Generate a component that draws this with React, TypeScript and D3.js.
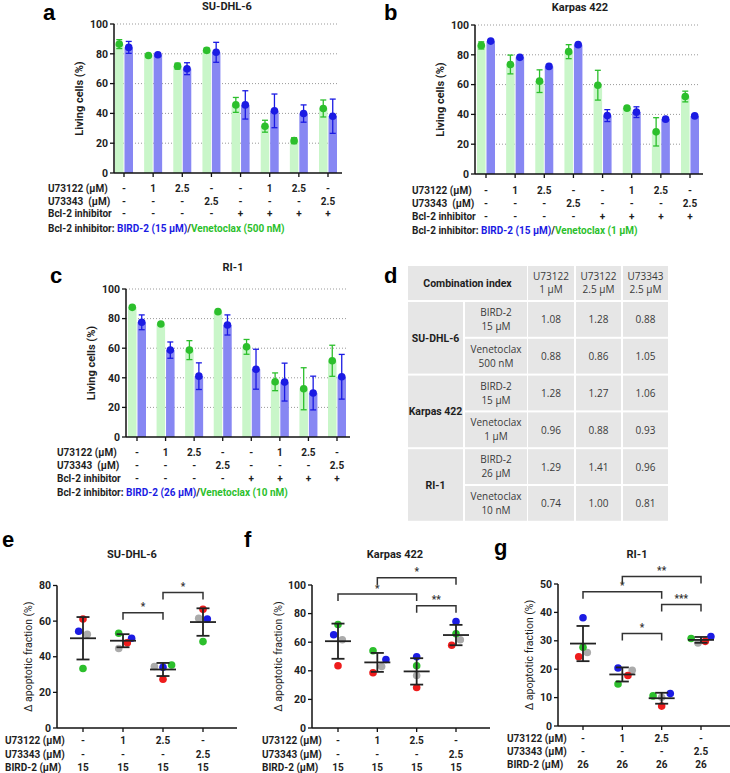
import React from 'react';
import * as d3 from 'd3';

// ---- panels a-c: row annotations under the bars ----
const u73122Row = ['-', '1', '2.5', '-', '-', '1', '2.5', '-'];
const u73343Row = ['-', '-', '-', '2.5', '-', '-', '-', '2.5'];
const bcl2Row = ['-', '-', '-', '-', '+', '+', '+', '+'];

// living cells (%), mean and SD per condition
const suVenMean = [86.5, 78.9, 71.7, 82.3, 45.7, 31.4, 21.7, 43.3];
const suVenSd = [3, 0.6, 2, 1.5, 5, 4, 2, 5.7];
const suBirdMean = [84.3, 79.4, 70, 81, 45.7, 41.7, 39.9, 38.1];
const suBirdSd = [4, 1, 4, 6.7, 9.5, 11.3, 5.8, 11.5];

const kpVenMean = [86.3, 73.5, 62.3, 82.1, 59.6, 44.2, 28.3, 52.0];
const kpVenSd = [2.4, 6.3, 7.6, 4.7, 10, 0.5, 9.5, 3.6];
const kpBirdMean = [89.2, 78.3, 72.2, 86.8, 39.2, 41.5, 36.8, 39.0];
const kpBirdSd = [0.5, 0.5, 0.5, 0.5, 4, 3.6, 0.5, 0.5];

const riVenMean = [87.6, 76.4, 58.7, 84.7, 60.9, 37.3, 32.6, 51.5];
const riVenSd = [1, 0.5, 6.4, 0.5, 5, 6, 14.2, 10.5];
const riBirdMean = [77.5, 58.7, 41.1, 75.7, 45.8, 37.1, 29.7, 40.7];
const riBirdSd = [5, 5.5, 9, 6.8, 13.5, 12.8, 11.4, 15.1];

const barTicks = [0, 20, 40, 60, 80, 100];

// ---- panel d: combination index table ----
const ciHeaderTop = ['U73122', 'U73122', 'U73343'];
const ciHeaderBottom = ['1 µM', '2.5 µM', '2.5 µM'];
const ciCellLines = ['SU-DHL-6', 'Karpas 422', 'RI-1'];
const ciInhibitor = ['BIRD-2', 'Venetoclax', 'BIRD-2', 'Venetoclax', 'BIRD-2', 'Venetoclax'];
const ciDose = ['15 µM', '500 nM', '15 µM', '1 µM', '26 µM', '10 nM'];
const ciValues = [
  [1.08, 1.28, 0.88],
  [0.88, 0.86, 1.05],
  [1.28, 1.27, 1.06],
  [0.96, 0.88, 0.93],
  [1.29, 1.41, 0.96],
  [0.74, 1.0, 0.81],
];

// ---- panels e-g: apoptotic fraction, one replicate per colour ----
const scU73122 = ['-', '1', '2.5', '-'];
const scU73343 = ['-', '-', '-', '2.5'];

const eRed = [61.2, 47.8, 27.4, 66.6];
const eBlue = [54.3, 50.4, 34.1, 61.2];
const eGray = [52.6, 44.6, 34.5, 61.6];
const eGreen = [33.4, 53.2, 35.4, 48.5];
const eRedSlot = [0, 1, 0, 0];
const eBlueSlot = [-1, 2, 0, 1];
const eGraySlot = [1, -1, -2, -1];
const eGreenSlot = [0, -1, 2, 0];

const fRed = [43.5, 38.6, 28.3, 57.9];
const fBlue = [65.2, 47.9, 49.8, 74.5];
const fGray = [61.7, 43.0, 36.7, 61.7];
const fGreen = [72.4, 54.0, 43.5, 65.9];
const fRedSlot = [0, -1, 0, -1];
const fBlueSlot = [-1, 2, 0, 0];
const fGraySlot = [1, 1, 0, 1];
const fGreenSlot = [0, -1, 0, 0];

const gRed = [24.4, 17.8, 7.0, 29.8];
const gBlue = [38.1, 20.4, 11.4, 31.5];
const gGray = [25.9, 19.6, 10.1, 29.2];
const gGreen = [27.7, 14.8, 10.6, 30.8];
const gRedSlot = [-1, 1.3, 0, 1];
const gBlueSlot = [0, -1, 2, 2.3];
const gGraySlot = [1, 2.3, 0, -0.7];
const gGreenSlot = [0, -1, -2, -2.3];

// significance brackets: [from group, to group, level, stars]
const eBrackets: [number, number, number, string][] = [
  [1, 2, 64.7, '*'],
  [2, 3, 76.1, '*'],
];
const fBrackets: [number, number, number, string][] = [
  [0, 2, 93.7, '*'],
  [1, 3, 105.1, '*'],
  [2, 3, 85.5, '**'],
];
const gBrackets: [number, number, number, string][] = [
  [0, 2, 47.3, '*'],
  [1, 3, 52.6, '**'],
  [2, 3, 42.8, '***'],
  [1, 2, 32.6, '*'],
];

const FONT = 'Roboto, "Noto Sans", sans-serif';
const CELL_FONT = '"Open Sans", "Noto Sans", sans-serif';
const GREEN = '#2cbf2c';
const GREEN_BAR = '#c9f6c9';
const BLUE = '#1b1be3';
const BLUE_BAR = '#8787f3';
const RED = '#ee1c1c';
const GRAY = '#ababab';
const INK = '#1e1e1e';

interface BarPanelProps {
  letter: string;
  letterX: number;
  letterY: number;
  title: string;
  titleX: number;
  titleY: number;
  left: number;
  right: number;
  top: number;
  bottom: number;
  firstTick: number;
  lastTick: number;
  venMean: number[];
  venSd: number[];
  birdMean: number[];
  birdSd: number[];
  rowX: number;
  rowY: number[];
  birdDose: string;
  venDose: string;
}

const BarPanel: React.FC<BarPanelProps> = (p) => {
  const idx = d3.range(p.venMean.length).map(String);
  const x = d3.scalePoint<string>().domain(idx).range([p.firstTick, p.lastTick]);
  const inner = d3.scaleBand<string>().domain(['ven', 'bird']).range([-9, 9]).paddingInner(0.1);
  const y = d3.scaleLinear().domain([0, 100]).range([p.bottom, p.top]);
  const bw = inner.bandwidth();

  const series = [
    { key: 'ven', mean: p.venMean, sd: p.venSd, bar: GREEN_BAR, dot: GREEN },
    { key: 'bird', mean: p.birdMean, sd: p.birdSd, bar: BLUE_BAR, dot: BLUE },
  ];

  return (
    <g fontFamily={FONT}>
      <text x={p.letterX} y={p.letterY} fontSize={22} fontWeight={700} fontFamily="Liberation Sans, Arial, sans-serif">
        {p.letter}
      </text>
      <text x={p.titleX} y={p.titleY} fontSize={11} fontWeight={700} textAnchor="middle" fill={INK}>
        {p.title}
      </text>
      {barTicks.filter((t) => t > 0).map((t) => (
        <line key={t} x1={p.left} x2={p.right - 4} y1={y(t)} y2={y(t)} stroke="#999" strokeWidth={1} strokeDasharray="1,2" />
      ))}
      {series.map((s) => (
        <g key={s.key}>
          {s.mean.map((m, i) => {
            const cx = x(String(i))! + inner(s.key)! + bw / 2;
            return (
              <g key={i}>
                <rect x={cx - bw / 2} y={y(m)} width={bw} height={y(0) - y(m)} fill={s.bar} />
                <line x1={cx} x2={cx} y1={y(m + s.sd[i])} y2={y(m - s.sd[i])} stroke={s.dot} strokeWidth={1.3} />
                <line x1={cx - 3} x2={cx + 3} y1={y(m + s.sd[i])} y2={y(m + s.sd[i])} stroke={s.dot} strokeWidth={1.3} />
                <line x1={cx - 3} x2={cx + 3} y1={y(m - s.sd[i])} y2={y(m - s.sd[i])} stroke={s.dot} strokeWidth={1.3} />
                <circle cx={cx} cy={y(m)} r={3.8} fill={s.dot} />
              </g>
            );
          })}
        </g>
      ))}
      <line x1={p.left} x2={p.left} y1={p.top} y2={p.bottom} stroke="#111" strokeWidth={1.5} />
      <line x1={p.left} x2={p.right} y1={p.bottom} y2={p.bottom} stroke="#111" strokeWidth={1.5} />
      {barTicks.map((t) => (
        <g key={t}>
          <line x1={p.left - 4} x2={p.left} y1={y(t)} y2={y(t)} stroke="#111" strokeWidth={1.3} />
          <text x={p.left - 6} y={y(t) + 3.8} fontSize={10.5} fontWeight={700} textAnchor="end" fill={INK}>
            {t}
          </text>
        </g>
      ))}
      {idx.map((k) => (
        <line key={k} x1={x(k)} x2={x(k)} y1={p.bottom} y2={p.bottom + 4} stroke="#111" strokeWidth={1.3} />
      ))}
      <text
        transform={`translate(${p.left - 31},${(p.top + p.bottom) / 2}) rotate(-90)`}
        fontSize={11}
        fontWeight={700}
        textAnchor="middle"
        fill={INK}
      >
        Living cells (%)
      </text>
      {[
        { label: 'U73122 (µM)', vals: u73122Row },
        { label: 'U73343  (µM)', vals: u73343Row },
        { label: 'Bcl-2 inhibitor', vals: bcl2Row },
      ].map((row, r) => (
        <g key={r} fontSize={10} fontWeight={700} fill={INK}>
          <text x={p.rowX} y={p.rowY[r]} style={{ whiteSpace: 'pre' }}>
            {row.label}
          </text>
          {row.vals.map((v, i) => (
            <text key={i} x={x(String(i))} y={p.rowY[r]} textAnchor="middle">
              {v}
            </text>
          ))}
        </g>
      ))}
      <text x={p.rowX} y={p.rowY[3]} fontSize={10} fontWeight={700} fill={INK}>
        <tspan>Bcl-2 inhibitor: </tspan>
        <tspan fill={BLUE}>{`BIRD-2 (${p.birdDose})`}</tspan>
        <tspan>/</tspan>
        <tspan fill={GREEN}>{`Venetoclax (${p.venDose})`}</tspan>
      </text>
    </g>
  );
};

interface ScatterPanelProps {
  letter: string;
  letterX: number;
  letterY: number;
  title: string;
  titleX: number;
  titleY: number;
  left: number;
  right: number;
  top: number;
  bottom: number;
  firstTick: number;
  lastTick: number;
  yMax: number;
  yStep: number;
  reps: { vals: number[]; slots: number[]; color: string }[];
  brackets: [number, number, number, string][];
  dose: string;
  rowX: number;
  rowY: number[];
}

const ScatterPanel: React.FC<ScatterPanelProps> = (p) => {
  const idx = d3.range(4).map(String);
  const x = d3.scalePoint<string>().domain(idx).range([p.firstTick, p.lastTick]);
  const y = d3.scaleLinear().domain([0, p.yMax]).range([p.bottom, p.top]);
  const ticks = d3.range(0, p.yMax + 0.001, p.yStep);
  const slotPx = 4.3;

  const stats = idx.map((_, i) => {
    const v = p.reps.map((r) => r.vals[i]);
    return { mean: d3.mean(v)!, sd: d3.deviation(v)! };
  });

  return (
    <g fontFamily={FONT}>
      <text x={p.letterX} y={p.letterY} fontSize={22} fontWeight={700} fontFamily="Liberation Sans, Arial, sans-serif">
        {p.letter}
      </text>
      <text x={p.titleX} y={p.titleY} fontSize={11} fontWeight={700} textAnchor="middle" fill={INK}>
        {p.title}
      </text>
      {p.reps.map((r, ri) => (
        <g key={ri}>
          {r.vals.map((v, i) => (
            <circle key={i} cx={x(String(i))! + r.slots[i] * slotPx} cy={y(v)} r={3.8} fill={r.color} />
          ))}
        </g>
      ))}
      {stats.map((s, i) => {
        const cx = x(String(i))!;
        return (
          <g key={i} stroke="#222" strokeWidth={1.8}>
            <line x1={cx} x2={cx} y1={y(s.mean + s.sd)} y2={y(s.mean - s.sd)} />
            <line x1={cx - 6.5} x2={cx + 6.5} y1={y(s.mean + s.sd)} y2={y(s.mean + s.sd)} />
            <line x1={cx - 6.5} x2={cx + 6.5} y1={y(s.mean - s.sd)} y2={y(s.mean - s.sd)} />
            <line x1={cx - 13} x2={cx + 13} y1={y(s.mean)} y2={y(s.mean)} />
          </g>
        );
      })}
      {p.brackets.map(([a, b, lvl, stars], i) => {
        const x1 = x(String(a))!;
        const x2 = x(String(b))!;
        const yy = y(lvl);
        return (
          <g key={i}>
            <path d={`M${x1},${yy + 7}V${yy}H${x2}V${yy + 7}`} fill="none" stroke="#333" strokeWidth={1.5} />
            <text x={(x1 + x2) / 2} y={yy - 2.5} fontSize={10} fontWeight={700} textAnchor="middle" fill="#333">
              {stars}
            </text>
          </g>
        );
      })}
      <line x1={p.left} x2={p.left} y1={p.top} y2={p.bottom} stroke="#111" strokeWidth={1.5} />
      <line x1={p.left} x2={p.right} y1={p.bottom} y2={p.bottom} stroke="#111" strokeWidth={1.5} />
      {ticks.map((t) => (
        <g key={t}>
          <line x1={p.left - 4} x2={p.left} y1={y(t)} y2={y(t)} stroke="#111" strokeWidth={1.3} />
          <text x={p.left - 6} y={y(t) + 3.6} fontSize={10.5} fontWeight={700} textAnchor="end" fill={INK}>
            {t}
          </text>
        </g>
      ))}
      {idx.map((k) => (
        <line key={k} x1={x(k)} x2={x(k)} y1={p.bottom} y2={p.bottom + 4} stroke="#111" strokeWidth={1.3} />
      ))}
      <text
        transform={`translate(${p.left - (p.yMax >= 100 ? 30 : 25)},${(p.top + p.bottom) / 2}) rotate(-90)`}
        fontSize={10.5}
        textAnchor="middle"
        fill={INK}
      >
        Δ apoptotic fraction (%)
      </text>
      {[
        { label: 'U73122 (µM)', vals: scU73122 },
        { label: 'U73343 (µM)', vals: scU73343 },
        { label: 'BIRD-2 (µM)', vals: idx.map(() => p.dose) },
      ].map((row, r) => (
        <g key={r} fontSize={10} fontWeight={700} fill={INK}>
          <text x={p.rowX} y={p.rowY[r]}>
            {row.label}
          </text>
          {row.vals.map((v, i) => (
            <text key={i} x={x(String(i))} y={p.rowY[r]} textAnchor="middle">
              {v}
            </text>
          ))}
        </g>
      ))}
    </g>
  );
};

const CiTable: React.FC = () => {
  const colX = [408, 465, 528, 576, 623];
  const colW = [55, 62, 46, 45, 45];
  const headTop = 266;
  const headH = 34;
  const rowTop = 302;
  const pitch = 36.8;
  const rowH = 34.8;
  const bg = '#e6e6e6';
  const txt = '#3a3a3a';

  return (
    <g fontFamily={CELL_FONT} fontSize={10} fill={txt}>
      <text x={384} y={283} fontSize={22} fontWeight={700} fill="#000" fontFamily="Liberation Sans, Arial, sans-serif">
        d
      </text>
      <rect x={colX[0]} y={headTop} width={colX[1] + colW[1] - colX[0]} height={headH} fill={bg} />
      <text x={(colX[0] + colX[1] + colW[1]) / 2} y={headTop + headH / 2 + 4} textAnchor="middle" fontWeight={700} fontSize={10.5} fontFamily={FONT} fill={INK}>
        Combination index
      </text>
      {ciHeaderTop.map((h, j) => {
        const cx = colX[j + 2] + colW[j + 2] / 2;
        return (
          <g key={j}>
            <rect x={colX[j + 2]} y={headTop} width={colW[j + 2]} height={headH} fill={bg} />
            <text x={cx} y={headTop + 14} textAnchor="middle">{h}</text>
            <text x={cx} y={headTop + 27} textAnchor="middle">{ciHeaderBottom[j]}</text>
          </g>
        );
      })}
      {ciCellLines.map((c, k) => {
        const y0 = rowTop + 2 * k * pitch;
        const h = pitch + rowH;
        return (
          <g key={c}>
            <rect x={colX[0]} y={y0} width={colW[0]} height={h} fill={bg} />
            <text x={colX[0] + colW[0] / 2} y={y0 + h / 2 + 4} textAnchor="middle" fontWeight={700} fontSize={10.5} fontFamily={FONT} fill={INK}>
              {c}
            </text>
          </g>
        );
      })}
      {ciValues.map((row, i) => {
        const y0 = rowTop + i * pitch;
        return (
          <g key={i}>
            <rect x={colX[1]} y={y0} width={colW[1]} height={rowH} fill={bg} />
            <text x={colX[1] + colW[1] / 2} y={y0 + 14} textAnchor="middle">{ciInhibitor[i]}</text>
            <text x={colX[1] + colW[1] / 2} y={y0 + 28} textAnchor="middle">{ciDose[i]}</text>
            {row.map((v, j) => (
              <g key={j}>
                <rect x={colX[j + 2]} y={y0} width={colW[j + 2]} height={rowH} fill={bg} />
                <text x={colX[j + 2] + colW[j + 2] / 2} y={y0 + rowH / 2 + 4} textAnchor="middle">
                  {v.toFixed(2)}
                </text>
              </g>
            ))}
          </g>
        );
      })}
    </g>
  );
};

const App: React.FC = () => {
  return (
    <svg width={730} height={773} style={{ position: 'absolute', left: 0, top: 0, background: '#fff' }}>
      <BarPanel
        letter="a" letterX={43} letterY={20} title="SU-DHL-6" titleX={227} titleY={10}
        left={114} right={342} top={24} bottom={173} firstTick={124} lastTick={328}
        venMean={suVenMean} venSd={suVenSd} birdMean={suBirdMean} birdSd={suBirdSd}
        rowX={48} rowY={[192, 205, 217, 232]} birdDose="15 µM" venDose="500 nM"
      />
      <BarPanel
        letter="b" letterX={384} letterY={20} title="Karpas 422" titleX={580} titleY={11}
        left={475} right={703} top={25} bottom={174} firstTick={486} lastTick={690}
        venMean={kpVenMean} venSd={kpVenSd} birdMean={kpBirdMean} birdSd={kpBirdSd}
        rowX={412} rowY={[194, 207, 220, 234]} birdDose="15 µM" venDose="1 µM"
      />
      <BarPanel
        letter="c" letterX={50} letterY={283} title="RI-1" titleX={233} titleY={271}
        left={126} right={350} top={289} bottom={437} firstTick={137} lastTick={337}
        venMean={riVenMean} venSd={riVenSd} birdMean={riBirdMean} birdSd={riBirdSd}
        rowX={57} rowY={[456, 469, 482, 496]} birdDose="26 µM" venDose="10 nM"
      />
      <CiTable />
      <ScatterPanel
        letter="e" letterX={2} letterY={547} title="SU-DHL-6" titleX={132} titleY={558}
        left={57} right={237} top={585.5} bottom={728} firstTick={83} lastTick={203}
        yMax={80} yStep={20}
        reps={[
          { vals: eGray, slots: eGraySlot, color: GRAY },
          { vals: eGreen, slots: eGreenSlot, color: GREEN },
          { vals: eBlue, slots: eBlueSlot, color: BLUE },
          { vals: eRed, slots: eRedSlot, color: RED },
        ]}
        brackets={eBrackets} dose="15" rowX={5} rowY={[744, 758, 771]}
      />
      <ScatterPanel
        letter="f" letterX={244} letterY={547} title="Karpas 422" titleX={395} titleY={558}
        left={312} right={490} top={585} bottom={728} firstTick={338} lastTick={456}
        yMax={100} yStep={20}
        reps={[
          { vals: fGray, slots: fGraySlot, color: GRAY },
          { vals: fGreen, slots: fGreenSlot, color: GREEN },
          { vals: fBlue, slots: fBlueSlot, color: BLUE },
          { vals: fRed, slots: fRedSlot, color: RED },
        ]}
        brackets={fBrackets} dose="15" rowX={262} rowY={[744, 758, 771]}
      />
      <ScatterPanel
        letter="g" letterX={494} letterY={555} title="RI-1" titleX={637} titleY={558}
        left={558} right={730} top={584} bottom={726} firstTick={583} lastTick={701}
        yMax={50} yStep={10}
        reps={[
          { vals: gGray, slots: gGraySlot, color: GRAY },
          { vals: gGreen, slots: gGreenSlot, color: GREEN },
          { vals: gBlue, slots: gBlueSlot, color: BLUE },
          { vals: gRed, slots: gRedSlot, color: RED },
        ]}
        brackets={gBrackets} dose="26" rowX={507} rowY={[742, 755, 768]}
      />
    </svg>
  );
};

export default App;
